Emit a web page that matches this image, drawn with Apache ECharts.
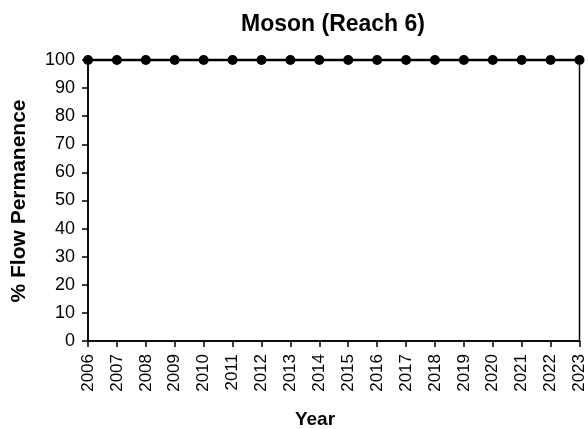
<!DOCTYPE html>
<html>
<head>
<meta charset="utf-8">
<script src="https://cdn.jsdelivr.net/npm/echarts@6/dist/echarts.min.js"></script>
<style>
html,body{margin:0;padding:0;background:#fff;}
#chart{width:588px;height:429px;}
</style>
</head>
<body>
<div id="chart"></div>
<script>
var years = ['2006','2007','2008','2009','2010','2011','2012','2013','2014','2015','2016','2017','2018','2019','2020','2021','2022','2023'];
var flowPermanence = [100,100,100,100,100,100,100,100,100,100,100,100,100,100,100,100,100,100];
var chartTitle = 'Moson (Reach 6)';
var yTitle = '% Flow Permanence';
var xTitle = 'Year';

var font = 'Liberation Sans, Arial, sans-serif';
var chart = echarts.init(document.getElementById('chart'), null, {renderer:'canvas'});
chart.setOption({
  backgroundColor:'#fff',
  animation:false,
  graphic:[
    {type:'text',x:333,y:25,
      style:{text:chartTitle,font:'bold 23px '+font,fill:'#000',textAlign:'center',textVerticalAlign:'middle'}},
    {type:'text',x:19,y:201,rotation:Math.PI/2,
      style:{text:yTitle,font:'bold 21px '+font,fill:'#000',textAlign:'center',textVerticalAlign:'middle'}},
    {type:'text',x:315,y:420,
      style:{text:xTitle,font:'bold 19px '+font,fill:'#000',textAlign:'center',textVerticalAlign:'middle'}}
  ],
  grid:{left:88,right:8,top:60,bottom:88,show:true,borderColor:'#000',borderWidth:1.5,backgroundColor:'transparent'},
  xAxis:{type:'category',data:years,boundaryGap:false,
    axisLine:{lineStyle:{color:'#000',width:1.5}},
    axisTick:{show:true,alignWithLabel:true,length:6,lineStyle:{color:'#000',width:1.5}},
    axisLabel:{rotate:90,margin:13,fontFamily:font,fontSize:17,color:'#000',interval:0},
    splitLine:{show:false}},
  yAxis:{type:'value',min:0,max:100,interval:10,
    axisLine:{show:true,lineStyle:{color:'#000',width:1.5}},
    axisTick:{show:true,length:6,lineStyle:{color:'#000',width:1.5}},
    axisLabel:{margin:13,fontFamily:font,fontSize:18,color:'#000'},
    splitLine:{show:false}},
  series:[{type:'line',data:flowPermanence,symbol:'circle',symbolSize:10,clip:false,
    lineStyle:{color:'#000',width:2.5},itemStyle:{color:'#000'}}]
});
</script>
</body>
</html>
